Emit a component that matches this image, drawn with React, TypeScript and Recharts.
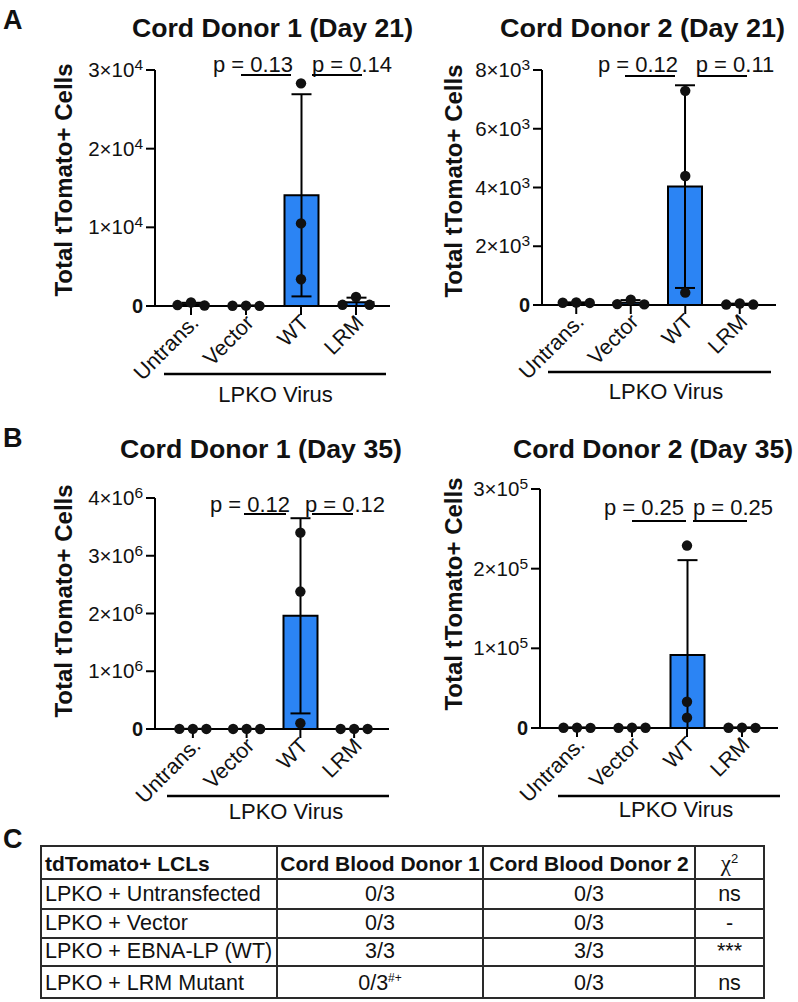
import React from "react";
import { Bar, ComposedChart, ErrorBar, Scatter, XAxis, YAxis } from "recharts";

const FONT = '"Liberation Sans", Arial, Helvetica, sans-serif';
const BLUE = "#2b84f4";
const INK = "#111";

const groups = ["Untrans.", "Vector", "WT", "LRM"];
const yAxisLabel = "Total tTomato+ Cells";
const xGroupLabel = "LPKO Virus";

// A: cord donor 1, day 21 (values per replicate)
const d1d21Points = [[120, 450, 60], [30, 40, 20], [28300, 10500, 3400], [150, 1150, 150]];
const d1d21Means = [210, 30, 14070, 480];
const d1d21Sds = [200, 10, 12850, 580];
const d1d21Ticks = [0, 10000, 20000, 30000];
const d1d21P = ["p = 0.13", "p = 0.14"];

// A: cord donor 2, day 21
const d2d21Points = [[75, 85, 70], [30, 180, 20], [7290, 4390, 420], [15, 50, 15]];
const d2d21Means = [77, 77, 4030, 27];
const d2d21Sds = [8, 90, 3450, 20];
const d2d21Ticks = [0, 2000, 4000, 6000, 8000];
const d2d21P = ["p = 0.12", "p = 0.11"];

// B: cord donor 1, day 35
const d1d35Points = [[1500, 2500, 1200], [1200, 2000, 800], [3400000, 2380000, 100000], [1000, 1800, 900]];
const d1d35Means = [1700, 1300, 1960000, 1200];
const d1d35Sds = [700, 600, 1690000, 500];
const d1d35Ticks = [0, 1000000, 2000000, 3000000, 4000000];
const d1d35P = ["p = 0.12", "p = 0.12"];

// B: cord donor 2, day 35
const d2d35Points = [[300, 500, 200], [200, 400, 300], [229000, 33000, 13000], [300, 500, 200]];
const d2d35Means = [330, 300, 91700, 330];
const d2d35Sds = [150, 100, 119000, 150];
const d2d35Ticks = [0, 100000, 200000, 300000];
const d2d35P = ["p = 0.25", "p = 0.25"];

// C: table
const tableRows = ["LPKO + Untransfected", "LPKO + Vector", "LPKO + EBNA-LP (WT)", "LPKO + LRM Mutant"];
const donor1Counts = ["0/3", "0/3", "3/3", "0/3"];
const donor1Notes = ["", "", "", "#+"];
const donor2Counts = ["0/3", "0/3", "3/3", "0/3"];
const chiSq = ["ns", "-", "***", "ns"];

const line = { stroke: "#000", strokeWidth: 2 };

function buildBars(means: number[], sds: number[]) {
  return groups.map((name, i) => ({
    name,
    mean: means[i],
    err: [Math.min(sds[i], means[i]), sds[i]],
  }));
}

function buildDots(points: number[][], yMax: number) {
  const rows: { gx: number; v: number; slot: number }[] = [];
  points.forEach((vals, gi) => {
    const spread = (Math.max(...vals) - Math.min(...vals)) / yMax < 0.06;
    vals.forEach((v, k) => rows.push({ gx: gi, v, slot: spread ? k - 1 : 0 }));
  });
  return rows;
}

function PowTick(props: any) {
  const { x, y, payload, exp } = props;
  const v = payload.value;
  if (v === 0) {
    return (
      <text x={x} y={y + 7} textAnchor="end" fontSize={20} fontWeight="bold" fontFamily={FONT} fill={INK}>
        0
      </text>
    );
  }
  const m = Math.round(v / Math.pow(10, exp));
  return (
    <text x={x} y={y + 7} textAnchor="end" fontSize={20.5} fontFamily={FONT} fill={INK}>
      {m}×10
      <tspan fontSize={15.5} dy={-7}>
        {exp}
      </tspan>
    </text>
  );
}

function CatTick(props: any) {
  const { x, y, payload } = props;
  const ax = x + 9;
  const ay = y + 7;
  return (
    <text
      x={ax}
      y={ay}
      transform={`rotate(-45, ${ax}, ${ay})`}
      textAnchor="end"
      fontSize={21.5}
      fontFamily={FONT}
      fill={INK}
    >
      {payload.value}
    </text>
  );
}

function Dot(props: any) {
  const { cx, cy, payload } = props;
  return <circle cx={cx + payload.slot * 13.5} cy={cy} r={5.2} fill={INK} />;
}

type PanelProps = {
  left: number;
  top: number;
  points: number[][];
  means: number[];
  sds: number[];
  ticks: number[];
  exp: number;
  margin: { top: number; right: number; bottom: number; left: number };
  pad: { left: number; right: number };
};

function Panel({ left, top, points, means, sds, ticks, exp, margin, pad }: PanelProps) {
  const yMax = ticks[ticks.length - 1];
  const bars = buildBars(means, sds);
  const dots = buildDots(points, yMax);
  return (
    <div style={{ position: "absolute", left, top, width: 400, height: 420 }}>
      <ComposedChart width={400} height={420} data={bars} margin={margin}>
        <XAxis
          xAxisId="cat"
          dataKey="name"
          type="category"
          padding={pad}
          height={60}
          tickSize={9}
          tickMargin={2}
          axisLine={line}
          tickLine={line}
          interval={0}
          tick={(p: any) => <CatTick {...p} />}
        />
        <XAxis xAxisId="pts" dataKey="gx" type="number" domain={[-0.5, 3.5]} padding={pad} hide />
        <YAxis
          type="number"
          domain={[0, yMax]}
          ticks={ticks}
          width={100}
          tickSize={9}
          tickMargin={3}
          axisLine={line}
          tickLine={line}
          interval={0}
          tick={(p: any) => <PowTick {...p} exp={exp} />}
        />
        <Bar xAxisId="cat" dataKey="mean" fill={BLUE} stroke="#000" strokeWidth={2} barSize={34} isAnimationActive={false}>
          <ErrorBar dataKey="err" width={10} stroke="#000" strokeWidth={2} direction="y" isAnimationActive={false} />
        </Bar>
        <Scatter xAxisId="pts" data={dots} dataKey="v" shape={(p: any) => <Dot {...p} />} isAnimationActive={false} />
      </ComposedChart>
    </div>
  );
}

type Notes = {
  title: string;
  titleX: number;
  titleY: number;
  titleLen: number;
  labelX: number;
  labelY: number;
  pTexts: string[];
  pX: number[];
  pY: number;
  lineY: number;
  lines: number[][];
  groupY: number;
  groupLine: number[];
  groupTextX: number;
  groupTextY: number;
};

const notes: Notes[] = [
  {
    title: "Cord Donor 1 (Day 21)", titleX: 272.5, titleY: 37, titleLen: 281,
    labelX: 72, labelY: 180,
    pTexts: d1d21P, pX: [253, 352], pY: 72, lineY: 75, lines: [[241, 291], [312, 362]],
    groupY: 374, groupLine: [164, 386], groupTextX: 275.5, groupTextY: 402,
  },
  {
    title: "Cord Donor 2 (Day 21)", titleX: 642.5, titleY: 37, titleLen: 285,
    labelX: 462, labelY: 181,
    pTexts: d2d21P, pX: [638, 735], pY: 72, lineY: 76, lines: [[625, 675], [698, 747]],
    groupY: 372, groupLine: [548, 771], groupTextX: 666, groupTextY: 399,
  },
  {
    title: "Cord Donor 1 (Day 35)", titleX: 261, titleY: 458, titleLen: 282,
    labelX: 72, labelY: 601,
    pTexts: d1d35P, pX: [250, 345], pY: 512, lineY: 514, lines: [[244, 286], [312, 353]],
    groupY: 796, groupLine: [167, 389], groupTextX: 286, groupTextY: 819,
  },
  {
    title: "Cord Donor 2 (Day 35)", titleX: 653, titleY: 458, titleLen: 280,
    labelX: 462, labelY: 594,
    pTexts: d2d35P, pX: [644, 733], pY: 515, lineY: 521, lines: [[632, 686], [693, 747]],
    groupY: 796, groupLine: [558, 780], groupTextX: 676, groupTextY: 817,
  },
];

function Overlay() {
  return (
    <svg
      width={798}
      height={1002}
      style={{ position: "absolute", left: 0, top: 0, pointerEvents: "none" }}
      fontFamily={FONT}
      fill={INK}
    >
      <text x={3} y={29} fontSize={27} fontWeight="bold">A</text>
      <text x={3} y={447} fontSize={27} fontWeight="bold">B</text>
      <text x={3} y={848} fontSize={27} fontWeight="bold">C</text>
      {notes.map((n, i) => (
        <g key={i}>
          <text
            x={n.titleX}
            y={n.titleY}
            textAnchor="middle"
            fontSize={25}
            fontWeight="bold"
            textLength={n.titleLen}
            lengthAdjust="spacingAndGlyphs"
          >
            {n.title}
          </text>
          <text
            x={n.labelX}
            y={n.labelY}
            transform={`rotate(-90, ${n.labelX}, ${n.labelY})`}
            textAnchor="middle"
            fontSize={24}
            fontWeight="bold"
          >
            {yAxisLabel}
          </text>
          {n.pTexts.map((t, k) => (
            <text key={k} x={n.pX[k]} y={n.pY} textAnchor="middle" fontSize={22}>
              {t}
            </text>
          ))}
          {n.lines.map((l, k) => (
            <line key={k} x1={l[0]} x2={l[1]} y1={n.lineY} y2={n.lineY} stroke="#000" strokeWidth={2} />
          ))}
          <line x1={n.groupLine[0]} x2={n.groupLine[1]} y1={n.groupY} y2={n.groupY} stroke="#000" strokeWidth={2.5} />
          <text x={n.groupTextX} y={n.groupTextY} textAnchor="middle" fontSize={22}>
            {xGroupLabel}
          </text>
        </g>
      ))}
    </svg>
  );
}

function Table() {
  const cell: React.CSSProperties = {
    border: "2px solid #2a2a2a",
    padding: "0 3px 3px 3px",
    fontSize: 21.5,
    lineHeight: "22px",
    verticalAlign: "bottom",
    textAlign: "center",
  };
  const head: React.CSSProperties = { ...cell, fontWeight: "bold", fontSize: 21 };
  const rowH = [30, 29, 28, 30];
  return (
    <table
      style={{
        position: "absolute",
        left: 40,
        top: 845,
        width: 723,
        borderCollapse: "collapse",
        fontFamily: FONT,
        color: INK,
        tableLayout: "fixed",
      }}
    >
      <colgroup>
        <col style={{ width: 236 }} />
        <col style={{ width: 206 }} />
        <col style={{ width: 212 }} />
        <col style={{ width: 69 }} />
      </colgroup>
      <tbody>
        <tr style={{ height: 33 }}>
          <td style={{ ...head, textAlign: "left", whiteSpace: "nowrap" }}>tdTomato+ LCLs</td>
          <td style={{ ...head, whiteSpace: "nowrap", padding: "0 0 3px 0" }}>Cord Blood Donor 1</td>
          <td style={{ ...head, whiteSpace: "nowrap", padding: "0 0 3px 0" }}>Cord Blood Donor 2</td>
          <td style={{ ...head, fontWeight: "normal" }}>
            <span style={{ fontFamily: '"Liberation Serif", serif', fontSize: 23 }}>χ</span>
            <sup style={{ fontSize: 13 }}>2</sup>
          </td>
        </tr>
        {tableRows.map((r, i) => (
          <tr key={r} style={{ height: rowH[i] }}>
            <td style={{ ...cell, textAlign: "left", whiteSpace: "nowrap" }}>{r}</td>
            <td style={cell}>
              {donor1Counts[i]}
              {donor1Notes[i] && <sup style={{ fontSize: 12 }}>{donor1Notes[i]}</sup>}
            </td>
            <td style={cell}>{donor2Counts[i]}</td>
            <td style={cell}>{chiSq[i]}</td>
          </tr>
        ))}
      </tbody>
    </table>
  );
}

export default function App() {
  return (
    <div
      style={{
        position: "absolute",
        left: 0,
        top: 0,
        width: 798,
        height: 1002,
        background: "#fff",
        fontFamily: FONT,
        overflow: "hidden",
      }}
    >
      <Panel
        left={0}
        top={0}
        points={d1d21Points}
        means={d1d21Means}
        sds={d1d21Sds}
        ticks={d1d21Ticks}
        exp={4}
        margin={{ top: 70, right: 10, bottom: 54, left: 55 }}
        pad={{ left: 8.5, right: 6.5 }}
      />
      <Panel
        left={400}
        top={0}
        points={d2d21Points}
        means={d2d21Means}
        sds={d2d21Sds}
        ticks={d2d21Ticks}
        exp={3}
        margin={{ top: 70, right: 24, bottom: 55, left: 42 }}
        pad={{ left: 7, right: 9 }}
      />
      <Panel
        left={0}
        top={420}
        points={d1d35Points}
        means={d1d35Means}
        sds={d1d35Sds}
        ticks={d1d35Ticks}
        exp={6}
        margin={{ top: 78, right: 11, bottom: 51, left: 55 }}
        pad={{ left: 11, right: 8 }}
      />
      <Panel
        left={400}
        top={420}
        points={d2d35Points}
        means={d2d35Means}
        sds={d2d35Sds}
        ticks={d2d35Ticks}
        exp={5}
        margin={{ top: 69, right: 22, bottom: 52, left: 40 }}
        pad={{ left: 9.5, right: 8.5 }}
      />
      <Overlay />
      <Table />
    </div>
  );
}
